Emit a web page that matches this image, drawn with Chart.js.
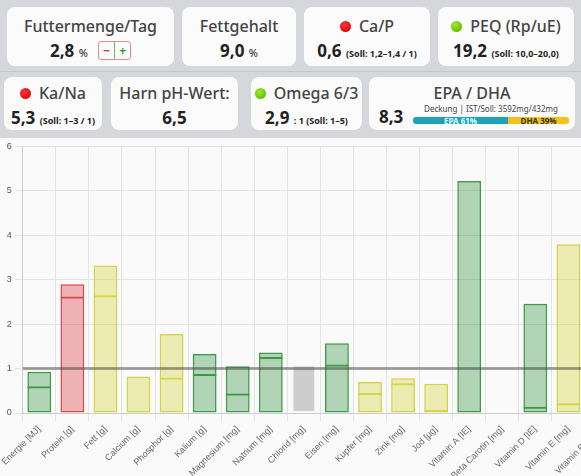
<!DOCTYPE html>
<html><head><meta charset="utf-8">
<script src="https://cdn.jsdelivr.net/npm/chart.js@4"></script>
<style>
body{margin:0;width:581px;height:476px;overflow:hidden;background:#d5d7da;font-family:"Noto Sans",Inter,sans-serif;position:relative}
.card{position:absolute;background:#fbfbfb;border-radius:8px;text-align:center;color:#333}
.t{font-size:16px;color:#444;margin-top:8px;font-weight:500}
.v{font-size:17px;font-weight:bold;color:#222;margin-top:2px}
.v small{font-size:9px;font-weight:bold}
.v .u{font-size:11px;font-weight:normal}
.dot{display:inline-block;width:11px;height:11px;border-radius:50%;margin-right:8px;vertical-align:0}
.r{background:radial-gradient(circle at 40% 35%,#f33,#c00)}
.g{background:radial-gradient(circle at 40% 35%,#9e2,#5a0)}
#wrap{position:absolute;left:0;top:138px;width:581px;height:338px;background:#fafafa;overflow:hidden}
#cw{position:absolute;left:0;top:0;width:618px;height:338px}
</style></head><body>
<div class="card" style="left:7px;top:7px;width:167px;height:59px"><div class="t">Futtermenge/Tag</div><div class="v">2,8 <span class="u">%</span> <span style="display:inline-block;border:1px solid #e88;border-radius:3px;font-size:12px;vertical-align:2px;margin-left:6px"><span style="color:#d33;padding:0 4px">−</span><span style="color:#393;border-left:1px solid #6b6;padding:0 4px">+</span></span></div></div>
<div class="card" style="left:182px;top:7px;width:114px;height:59px"><div class="t">Fettgehalt</div><div class="v">9,0 <span class="u">%</span></div></div>
<div class="card" style="left:304px;top:7px;width:126px;height:59px"><div class="t"><span class="dot r"></span>Ca/P</div><div class="v">0,6 <small>(Soll: 1,2–1,4 / 1)</small></div></div>
<div class="card" style="left:438px;top:7px;width:136px;height:59px"><div class="t"><span class="dot g"></span>PEQ (Rp/uE)</div><div class="v">19,2 <small>(Soll: 10,0–20,0)</small></div></div>
<div style="position:absolute;left:0;top:71px;width:581px;height:1px;background:#c4c6c9"></div>
<div class="card" style="left:4px;top:77px;width:98px;height:53px"><div class="t" style="margin-top:5px"><span class="dot r"></span>Ka/Na</div><div class="v">5,3 <small>(Soll: 1–3 / 1)</small></div></div>
<div class="card" style="left:111px;top:77px;width:127px;height:53px"><div class="t" style="margin-top:5px">Harn pH-Wert:</div><div class="v">6,5</div></div>
<div class="card" style="left:251px;top:77px;width:111px;height:53px"><div class="t" style="margin-top:5px"><span class="dot g"></span>Omega 6/3</div><div class="v">2,9 <small>: 1 (Soll: 1–5)</small></div></div>
<div class="card" style="left:369px;top:77px;width:206px;height:53px"><div class="t" style="margin-top:5px">EPA / DHA</div>
<div style="position:absolute;left:10px;top:28px;font-size:17px;font-weight:bold;color:#222">8,3</div>
<div style="position:absolute;left:44px;top:26px;font-size:8px;color:#444;width:156px">Deckung | IST/Soll: 3592mg/432mg</div>
<div style="position:absolute;left:44px;top:40px;width:156px;height:7px;font-size:8px;font-weight:bold;line-height:7px;display:flex;border-radius:3px;overflow:hidden">
<div style="width:61%;background:#1fa3b8;color:#dff">EPA 61%</div><div style="width:39%;background:#f6c21a;color:#333">DHA 39%</div></div></div>
<div id="wrap"><div id="cw"><canvas id="c"></canvas></div></div>
<script>
const categories = ['Energie [MJ]','Protein [g]','Fett [g]','Calcium [g]','Phosphor [g]','Kalium [g]','Magnesium [mg]','Natrium [mg]','Chlorid [mg]','Eisen [mg]','Kupfer [mg]','Zink [mg]','Jod [µg]','Vitamin A [IE]','Beta Carotin [mg]','Vitamin D [IE]','Vitamin E [mg]','Vitamin B1 [mg]'];
const totalValues = [0.93,2.9,3.32,0.82,1.78,1.33,1.05,1.36,1.08,1.57,0.7,0.78,0.66,5.22,0,2.46,3.8,0];
const innerValues = [0.6,2.62,2.65,0.02,0.8,0.88,0.44,1.26,null,1.09,0.45,0.67,0.07,null,null,0.14,0.22,null];
const status = ['g','r','y','y','y','g','g','g','n','g','y','y','y','g','n','g','y','n'];
const yTicks = [0,1,2,3,4,5,6];
const refValue = 1;

const fills = {g:'rgba(60,150,70,0.38)', r:'rgba(220,70,75,0.4)', y:'rgba(215,215,70,0.4)', n:'rgba(185,185,185,0.7)'};
const lines = {g:'#3d9a48', r:'#d84a50', y:'#d5d34a', n:'rgba(0,0,0,0)'};

const refLine = {
  id: 'refLine',
  afterDatasetsDraw(chart) {
    const {ctx, chartArea, scales} = chart;
    const y = scales.y.getPixelForValue(refValue);
    ctx.save();
    ctx.strokeStyle = 'rgba(60,60,60,0.45)';
    ctx.lineWidth = 3;
    ctx.beginPath();
    ctx.moveTo(chartArea.left, y);
    ctx.lineTo(chartArea.right, y);
    ctx.stroke();
    ctx.restore();
  }
};

new Chart(document.getElementById('c'), {
  type: 'bar',
  data: {
    labels: categories,
    datasets: [{
      data: totalValues,
      backgroundColor: status.map(s => fills[s]),
      borderColor: status.map(s => lines[s]),
      borderWidth: 1.5,
      borderSkipped: false,
      grouped: false,
      barPercentage: 0.72,
      categoryPercentage: 1
    }, {
      data: innerValues,
      backgroundColor: 'rgba(0,0,0,0)',
      borderColor: status.map(s => lines[s]),
      borderWidth: {top: 2, left: 0, right: 0, bottom: 0},
      borderSkipped: false,
      grouped: false,
      barPercentage: 0.72,
      categoryPercentage: 1
    }]
  },
  options: {
    responsive: true,
    maintainAspectRatio: false,
    animation: false,
    layout: {padding: {top: 6, left: 2}},
    plugins: {legend: {display: false}, tooltip: {enabled: false}},
    scales: {
      x: {
        grid: {color: '#e4e4e4'},
        afterFit: s => { s.height = 63; },
        ticks: {color: '#666', font: {size: 9}, maxRotation: 45, minRotation: 45, autoSkip: false}
      },
      y: {
        min: yTicks[0], max: yTicks[yTicks.length - 1],
        afterBuildTicks: s => { s.ticks = yTicks.map(v => ({value: v})); },
        grid: {color: '#e4e4e4'},
        ticks: {color: '#555', font: {size: 9}}
      }
    }
  },
  plugins: [refLine]
});
</script>
</body></html>
